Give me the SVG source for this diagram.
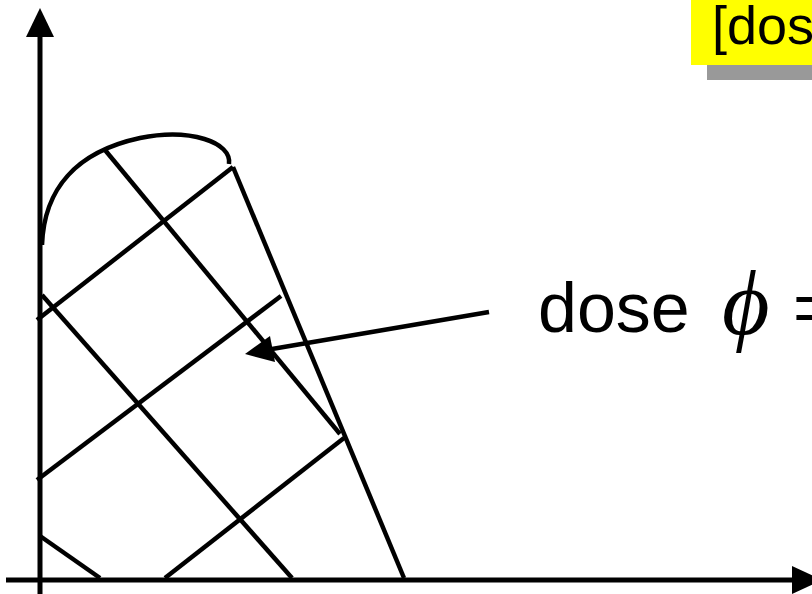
<svg xmlns="http://www.w3.org/2000/svg" width="812" height="594" viewBox="0 0 812 594">
<defs>
<style>
.ln{stroke:#000;stroke-width:4.5;fill:none;stroke-linecap:butt}
.ax{stroke:#000;stroke-width:5;fill:none}
.t{font-family:"Liberation Sans",Arial,sans-serif;fill:#000}
</style>
</defs>
<rect width="812" height="594" fill="#fff"/>
<g id="label-top">
<rect x="707" y="62" width="110" height="18" fill="#999"/>
<rect x="691" y="-10" width="125" height="75" fill="#ffff00"/>
<text class="t" x="712" y="44" font-size="54">[dose</text>
</g>
<g id="axes">
<line class="ax" x1="40" y1="594" x2="40" y2="35"/>
<polygon points="40,8 26,37 54,37"/>
<line class="ax" x1="6" y1="580" x2="794" y2="580"/>
<polygon points="822,580 792,566 792,594"/>
</g>
<g id="region">
<path class="ln" d="M42,245 C44,190 75,152 140,138 C190,128 232,142 229,164"/>
<line class="ln" x1="233" y1="167" x2="404" y2="578"/>
<line class="ln" x1="105" y1="150" x2="340" y2="434"/>
<line class="ln" x1="42" y1="295" x2="292" y2="578"/>
<line class="ln" x1="40" y1="536" x2="100" y2="578"/>
<line class="ln" x1="37" y1="320" x2="233" y2="167"/>
<line class="ln" x1="37" y1="480" x2="281" y2="296"/>
<line class="ln" x1="165" y1="578" x2="344" y2="438"/>
</g>
<g id="connectors">
<line class="ln" x1="489" y1="312" x2="272" y2="349"/>
<polygon points="245,354 270,336 275,362"/>
</g>
<g id="label-dose">
<text class="t" x="538" y="332" font-size="70">dose</text>
<text x="722" y="334" font-size="92" font-style="italic" font-family="'Liberation Serif','DejaVu Serif',serif">ϕ</text>
<text class="t" x="793" y="332" font-size="70">=</text>
</g>
</svg>
